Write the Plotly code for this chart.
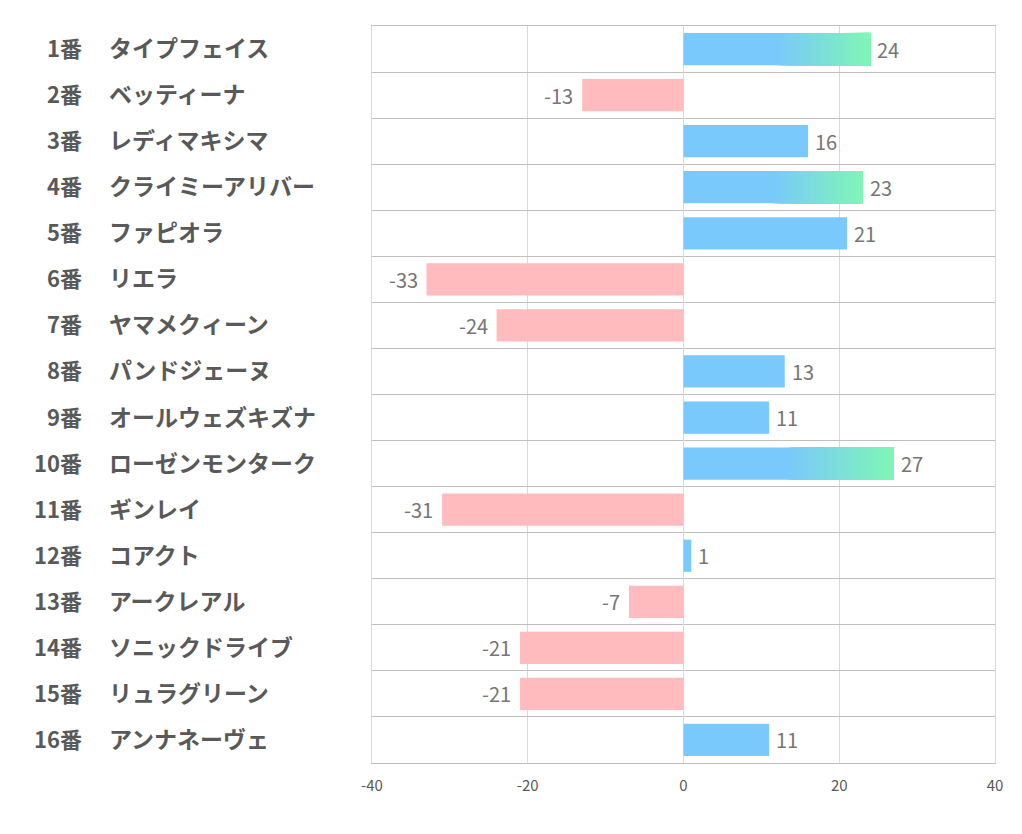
import plotly.graph_objects as go

numbers = ["1番", "2番", "3番", "4番", "5番", "6番", "7番", "8番",
           "9番", "10番", "11番", "12番", "13番", "14番", "15番", "16番"]
names = ["タイプフェイス", "ベッティーナ", "レディマキシマ", "クライミーアリバー",
         "ファピオラ", "リエラ", "ヤマメクィーン", "パンドジェーヌ",
         "オールウェズキズナ", "ローゼンモンターク", "ギンレイ", "コアクト",
         "アークレアル", "ソニックドライブ", "リュラグリーン", "アンナネーヴェ"]
values = [24, -13, 16, 23, 21, -33, -24, 13, 11, 27, -31, 1, -7, -21, -21, 11]
x_ticks = [-40, -20, 0, 20, 40]

BLUE = (122, 201, 252)
GREEN = (128, 247, 182)
PINK = "rgb(255,187,189)"

# page body has an 8px margin; place plot area at 372..995 x 26..763 on screen
OFF = 8
W, H = 1022, 834
PW, PH = 623, 737
ML, MT = 372 - OFF, 26 - OFF
MR = W - ML - PW
MB = H - MT - PH

ypos = list(range(1, len(values) + 1))
top3 = sorted(values, reverse=True)[:3]

def rgb(c):
    return "rgb(%d,%d,%d)" % c

fig = go.Figure()

# base bars
fig.add_trace(go.Bar(x=values, y=ypos, orientation="h", width=0.7,
                     marker=dict(color=[rgb(BLUE) if v >= 0 else PINK for v in values],
                                 line=dict(width=0)),
                     hoverinfo="skip", showlegend=False))

# gradient overlay (each layer runs to the bar end, so no seams)
N = 40
seg_y, seg_x, seg_b, seg_c = [], [], [], []
for yp, v in zip(ypos, values):
    if v in top3 and v > 0:
        start = v * 0.5
        step = (v - start) / N
        for i in range(N):
            t = (i + 0.5) / N
            c = tuple(BLUE[k] + (GREEN[k] - BLUE[k]) * t for k in range(3))
            b = start + i * step
            seg_y.append(yp)
            seg_b.append(b)
            seg_x.append(v - b)
            seg_c.append(rgb(c))
fig.add_trace(go.Bar(x=seg_x, y=seg_y, base=seg_b, orientation="h", width=0.7,
                     marker=dict(color=seg_c, line=dict(width=0)),
                     hoverinfo="skip", showlegend=False))

annotations = []
for yp, v in zip(ypos, values):
    annotations.append(dict(x=v, y=yp, xref="x", yref="y", text=str(v),
                            showarrow=False,
                            xanchor="left" if v >= 0 else "right",
                            xshift=5 if v >= 0 else -7, yshift=0,
                            font=dict(family="Noto Sans CJK JP", size=20, color="#767676")))

for yp, num, nm in zip(ypos, numbers, names):
    annotations.append(dict(x=(84 - OFF - ML) / PW, y=yp, xref="paper", yref="y",
                            text=num, showarrow=False, xanchor="right", yshift=2,
                            font=dict(family="Noto Sans CJK JP", size=22,
                                      color="#595959", weight="bold")))
    annotations.append(dict(x=(107 - OFF - ML) / PW, y=yp, xref="paper", yref="y",
                            text=nm, showarrow=False, xanchor="left", yshift=2,
                            font=dict(family="Noto Sans CJK JP", size=23,
                                      color="#595959", weight="bold")))

fig.update_layout(
    width=W, height=H,
    margin=dict(l=ML, r=MR, t=MT, b=MB),
    paper_bgcolor="white", plot_bgcolor="white",
    barmode="overlay", bargap=0.3,
    annotations=annotations,
    xaxis=dict(range=[-40, 40], tickvals=x_ticks, ticktext=[str(t) for t in x_ticks],
               showgrid=True, gridcolor="#d9d9d9", gridwidth=1,
               zeroline=True, zerolinecolor="#d9d9d9", zerolinewidth=1,
               showline=True, mirror=True, linecolor="#bfbfbf", linewidth=1,
               ticks="", ticklabelstandoff=9,
               tickfont=dict(family="Noto Sans CJK JP", size=15, color="#595959")),
    yaxis=dict(range=[16.5, 0.5], tickvals=[i + 0.5 for i in range(0, 17)],
               showticklabels=False, showgrid=True, gridcolor="#bfbfbf", gridwidth=1,
               showline=True, mirror=True, linecolor="#d9d9d9", linewidth=1,
               zeroline=False, ticks=""),
)

fig.write_html("out.html")
